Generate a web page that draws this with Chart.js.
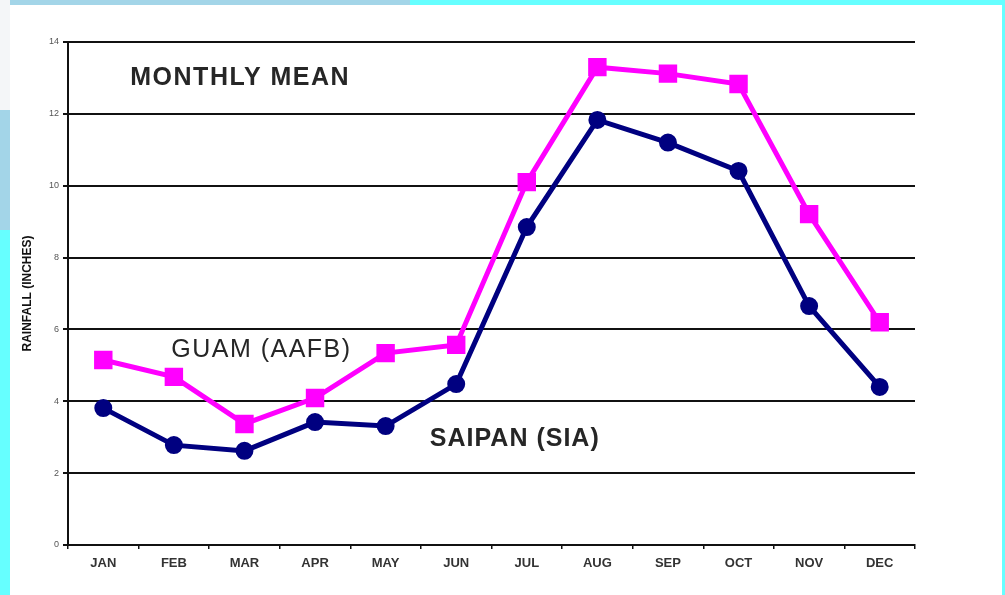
<!DOCTYPE html>
<html>
<head>
<meta charset="utf-8">
<script src="https://cdn.jsdelivr.net/npm/chart.js@4"></script>
<style>
  html, body { margin: 0; padding: 0; }
  body { width: 1005px; height: 595px; background: #66ffff; position: relative; overflow: hidden; }
  .deco { position: absolute; left: 0; top: 0; width: 410px; height: 230px; background: #a3d5e8; }
  .deco2 { position: absolute; left: 0; top: 0; width: 10px; height: 110px; background: #f4f6f8; }
  .panel { position: absolute; left: 10px; top: 5px; width: 992px; height: 590px; background: #fff; }
  #rain-chart { position: absolute; left: 0; top: 0; }
</style>
</head>
<body>
<div class="deco"></div>
<div class="deco2"></div>
<div class="panel"></div>
<canvas id="rain-chart" width="1005" height="595"></canvas>
<script>
// Monthly mean rainfall (inches)
const months = ['JAN', 'FEB', 'MAR', 'APR', 'MAY', 'JUN', 'JUL', 'AUG', 'SEP', 'OCT', 'NOV', 'DEC'];
const guam = [5.15, 4.68, 3.37, 4.09, 5.34, 5.57, 10.1, 13.3, 13.12, 12.83, 9.21, 6.2];
const saipan = [3.81, 2.78, 2.62, 3.42, 3.31, 4.48, 8.85, 11.83, 11.2, 10.41, 6.65, 4.4];
const yTicks = [0, 2, 4, 6, 8, 10, 12, 14];

// text written on the plot (x = month index, y = inches)
const notes = [
    { text: 'MONTHLY MEAN', x: 1.94, y: 13.0, font: 'bold 25px "Liberation Sans", Arial', spacing: '1.5px' },
    { text: 'GUAM (AAFB)', x: 2.24, y: 5.43, font: '25px "Liberation Sans", Arial', spacing: '1.5px' },
    { text: 'SAIPAN (SIA)', x: 5.83, y: 2.95, font: 'bold 25px "Liberation Sans", Arial', spacing: '1px' }
];

const notesPlugin = {
    id: 'notes',
    afterDraw(chart) {
        const ctx = chart.ctx;
        const xs = chart.scales.x, ys = chart.scales.y;
        ctx.save();
        ctx.fillStyle = '#262626';
        ctx.textAlign = 'center';
        ctx.textBaseline = 'middle';
        notes.forEach(n => {
            ctx.font = n.font;
            ctx.letterSpacing = n.spacing;
            ctx.fillText(n.text, xs.getPixelForValue(n.x), ys.getPixelForValue(n.y));
        });
        ctx.restore();
    }
};

function rainChart(){
    const el = document.getElementById('rain-chart');
    new Chart(el, {
        type: 'line',
        data: {
            labels: months,
            datasets: [{
                label: 'GUAM (AAFB)',
                data: guam,
                borderColor: '#ff00ff',
                backgroundColor: '#ff00ff',
                borderWidth: 5,
                pointStyle: 'rect',
                pointRadius: 9.5,
                tension: 0
            },
            {
                label: 'SAIPAN (SIA)',
                data: saipan,
                borderColor: '#000080',
                backgroundColor: '#000080',
                borderWidth: 5,
                pointStyle: 'circle',
                pointRadius: 6.5,
                tension: 0
            }]
        },
        options: {
            responsive: false,
            animation: false,
            layout: {
                padding: { left: 16, top: 42, right: 90, bottom: 0 }
            },
            plugins: {
                legend: { display: false },
                tooltip: { enabled: false }
            },
            scales: {
                x: {
                    offset: true,
                    grid: {
                        offset: true,
                        drawOnChartArea: false,
                        drawTicks: true,
                        tickLength: 4,
                        color: '#111',
                        lineWidth: 1.5
                    },
                    border: { color: '#111', width: 2 },
                    ticks: {
                        padding: 7,
                        color: '#333',
                        font: { family: '"Liberation Sans", Arial', size: 13, weight: 'bold' },
                        maxRotation: 0
                    },
                    afterFit(scale) { scale.height = 50; }
                },
                y: {
                    min: 0,
                    max: 14,
                    afterBuildTicks(scale) { scale.ticks = yTicks.map(v => ({ value: v })); },
                    grid: {
                        color: '#111',
                        lineWidth: 2,
                        tickLength: 5
                    },
                    border: { color: '#111', width: 2 },
                    ticks: {
                        padding: 4,
                        color: '#555',
                        font: { family: '"Liberation Sans", Arial', size: 9 }
                    },
                    title: {
                        display: true,
                        text: 'RAINFALL (INCHES)',
                        color: '#111',
                        padding: { top: 4, bottom: 0 },
                        font: { family: '"Liberation Sans", Arial', size: 12, weight: 'bold' }
                    },
                    afterFit(scale) { scale.width = 52; }
                }
            }
        },
        plugins: [notesPlugin]
    });
}rainChart();
</script>
</body>
</html>
